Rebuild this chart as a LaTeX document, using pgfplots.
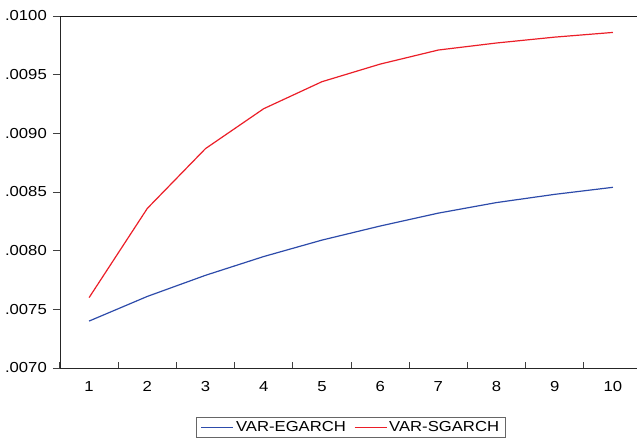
\documentclass[border=0pt]{standalone}
\usepackage{pgfplots}
\pgfplotsset{compat=1.18}
\usepackage{fontspec}
\setmainfont{Liberation Sans}[FakeStretch=1.15]
\definecolor{eblue}{RGB}{45,75,170}
\definecolor{sred}{RGB}{235,30,40}
\pgfplotstableread{
x y
1 0.00740
2 0.00761
3 0.00779
4 0.00795
5 0.00809
6 0.00821
7 0.00832
8 0.00841
9 0.00848
10 0.00854
}\egarch
\pgfplotstableread{
x y
1 0.00760
2 0.00836
3 0.00887
4 0.00921
5 0.00944
6 0.00959
7 0.00971
8 0.00977
9 0.00982
10 0.00986
}\sgarch
\begin{document}
\fontsize{14.5bp}{17bp}\selectfont
\begin{tikzpicture}
\useasboundingbox (-60bp,-76bp) rectangle (577bp,368bp);
\begin{axis}[
  scale only axis, width=577bp, height=352bp,
  xmin=0.5, xmax=10.413, ymin=0.0070, ymax=0.0100,
  axis x line*=bottom, axis y line*=left,
  axis line style={-, black!85, line width=0.9bp},
  clip=false,
  scaled y ticks=false,
  ytick={0.0070,0.0075,0.0080,0.0085,0.0090,0.0095,0.0100},
  yticklabels={.0070,.0075,.0080,.0085,.0090,.0095,.0100},
  xtick={1,2,3,4,5,6,7,8,9,10},
  xticklabels={1,2,3,4,5,6,7,8,9,10},
  minor xtick={0.5,1.5,2.5,3.5,4.5,5.5,6.5,7.5,8.5,9.5},
  major x tick style={draw=none},
  minor x tick style={draw=black!75, line width=1bp},
  minor tick length=6bp,
  ytick align=outside,
  major y tick style={draw=black!75, line width=1bp},
  major tick length=7bp,
  yticklabel style={inner sep=0bp, xshift=-6bp},
  xticklabel style={yshift=-8bp},
  legend columns=2,
  legend style={at={(0.5043,-0.139)}, anchor=north, draw=black!60, line width=0.9bp,
    /tikz/every even column/.append style={column sep=6bp},
    inner xsep=4bp, inner ysep=2bp},
  legend image post style={xscale=1.88},
]
\addplot[eblue, line width=1.2bp, forget plot] table {\egarch};
\addplot[sred, line width=1.2bp, forget plot] table {\sgarch};
\addlegendimage{eblue, line width=1.2bp}
\addlegendentry{VAR-EGARCH}
\addlegendimage{sred, line width=1.2bp}
\addlegendentry{VAR-SGARCH}
\draw[black!90, line width=0.9bp] (rel axis cs:0,1) -- (rel axis cs:1,1);
\end{axis}
\end{tikzpicture}
\end{document}
